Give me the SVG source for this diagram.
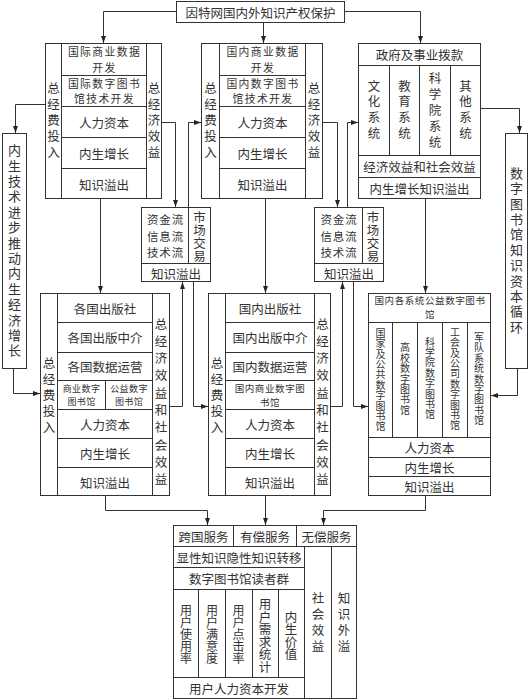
<svg xmlns="http://www.w3.org/2000/svg" width="530" height="700" viewBox="0 0 530 700">
<defs>
<style>
.b{fill:#fff;stroke:#333;stroke-width:1}
.l{fill:none;stroke:#333;stroke-width:1}
.c{fill:none;stroke:#333;stroke-width:1;marker-end:url(#a)}
text{font-family:"Noto Sans CJK SC","Noto Sans CJK TC",sans-serif;font-size:12.5px;fill:#333;text-anchor:middle;dominant-baseline:central}
.m{font-size:10.8px;letter-spacing:1.4px}
.f{font-size:11.5px;letter-spacing:0.8px}
.s{font-size:9.5px;letter-spacing:0.6px}
.xs{font-size:9px;letter-spacing:0.4px}
.v{writing-mode:vertical-rl;text-orientation:upright}
.v16{letter-spacing:3.5px}
.v17{letter-spacing:4.8px}
.v15{font-size:13px;letter-spacing:2.4px}
.vs{font-size:10px;letter-spacing:0.4px}
.vb{font-size:12px;letter-spacing:0}
</style>
<marker id="a" viewBox="0 0 10 10" refX="10" refY="5" markerWidth="7" markerHeight="7" orient="auto" markerUnits="userSpaceOnUse"><path d="M0,1.5 L10,5 L0,8.5z" fill="#222"/></marker>
</defs>
<rect width="530" height="700" fill="#fff"/>

<g id="connectors">
<path class="c" d="M176.5,11.5 H103.5 V43"/>
<path class="c" d="M263.5,22 V43"/>
<path class="c" d="M345,11.5 H420.5 V43"/>
<path class="c" d="M45,104.5 H15.5 V133"/>
<path class="c" d="M13.5,369 V393.5 H40"/>
<path class="c" d="M162,122.5 H175.5 V207"/>
<path class="c" d="M188.5,207 V122.5 H201"/>
<path class="c" d="M170,406.5 H182.5 V282"/>
<path class="c" d="M193.5,282 V406.5 H208"/>
<path class="c" d="M323,122.5 H337.5 V207"/>
<path class="c" d="M347.5,207 V122.5 H358"/>
<path class="c" d="M331,406.5 H342.5 V282"/>
<path class="c" d="M353.5,282 V406.5 H368"/>
<path class="c" d="M481,108.5 H519.5 V133"/>
<path class="c" d="M517.5,369 V395.5 H491"/>
<path class="c" d="M100.5,199 V293"/>
<path class="c" d="M265.5,199 V293"/>
<path class="c" d="M425.5,199 V293"/>
<path class="c" d="M105.5,496 V510.5 H207.5 V525"/>
<path class="c" d="M265.5,496 V525"/>
<path class="c" d="M425.5,496 V510.5 H323.5 V525"/>
</g>

<g id="top">
<rect class="b" x="176.5" y="1.5" width="168" height="21"/>
<text x="260.5" y="12">因特网国内外知识产权保护</text>
</g>

<g id="box1">
<rect class="b" x="45.5" y="43.5" width="116" height="155"/>
<path class="l" d="M61.5,43.5 V198.5 M146.5,43.5 V198.5 M61.5,75.5 H146.5 M61.5,106.5 H146.5 M61.5,137.5 H146.5 M61.5,168.5 H146.5"/>
<text class="m" x="104.5" y="51">国际商业数据</text><text class="m" x="104.5" y="66.8">开发</text>
<text class="m" x="104.5" y="82.6">国际数字图书</text><text class="m" x="104.5" y="98.4">馆技术开发</text>
<text x="104" y="122" font-size="13.5">人力资本</text>
<text x="104" y="153" font-size="13.5">内生增长</text>
<text x="104" y="184" font-size="13.5">知识溢出</text>
<text class="v v16" x="53.5" y="121.5">总经费投入</text>
<text class="v v16" x="154" y="121.5">总经济效益</text>
</g>

<g id="box2">
<rect class="b" x="201.5" y="43.5" width="121" height="155"/>
<path class="l" d="M219.5,43.5 V198.5 M305.5,43.5 V198.5 M219.5,75.5 H305.5 M219.5,106.5 H305.5 M219.5,137.5 H305.5 M219.5,168.5 H305.5"/>
<text class="m" x="263" y="51">国内商业数据</text><text class="m" x="263" y="66.8">开发</text>
<text class="m" x="263" y="82.6">国内数字图书</text><text class="m" x="263" y="98.4">馆技术开发</text>
<text x="262.5" y="122" font-size="13.5">人力资本</text>
<text x="262.5" y="153" font-size="13.5">内生增长</text>
<text x="262.5" y="184" font-size="13.5">知识溢出</text>
<text class="v v16" x="210.5" y="121.5">总经费投入</text>
<text class="v v16" x="314" y="121.5">总经济效益</text>
</g>

<g id="box3">
<rect class="b" x="358.5" y="43.5" width="122" height="155"/>
<path class="l" d="M358.5,65.5 H480.5 M358.5,155.5 H480.5 M358.5,177.5 H480.5 M389.5,65.5 V155.5 M419.5,65.5 V155.5 M450.5,65.5 V155.5"/>
<text x="419.5" y="54.5">政府及事业拨款</text>
<text class="v" x="374" y="111" letter-spacing="3.2">文化系统</text>
<text class="v" x="404.5" y="111" letter-spacing="3.2">教育系统</text>
<text class="v" x="435" y="112" letter-spacing="3.7">科学院系统</text>
<text class="v" x="465.5" y="111" letter-spacing="3.2">其他系统</text>
<text x="419.5" y="166.5">经济效益和社会效益</text>
<text x="419.5" y="188">内生增长知识溢出</text>
</g>

<g id="left-side">
<rect class="b" x="2.5" y="133.5" width="24" height="235"/>
<text class="v v15" x="14.5" y="251.5">内生技术进步推动内生经济增长</text>
</g>

<g id="right-side">
<rect class="b" x="505.5" y="133.5" width="22" height="235"/>
<text class="v v15" x="516.5" y="251">数字图书馆知识资本循环</text>
</g>

<g id="flowA">
<rect class="b" x="141.5" y="207.5" width="69" height="74"/>
<path class="l" d="M141.5,263.5 H210.5 M188.5,207.5 V263.5"/>
<text class="f" x="165.5" y="218.8">资金流</text><text class="f" x="165.5" y="235.5">信息流</text><text class="f" x="165.5" y="252.2">技术流</text>
<text class="v" x="199.5" y="237" font-size="12" letter-spacing="0.5">市场交易</text>
<text x="176" y="273">知识溢出</text>
</g>

<g id="flowB">
<rect class="b" x="314.5" y="207.5" width="69" height="74"/>
<path class="l" d="M314.5,263.5 H383.5 M362.5,207.5 V263.5"/>
<text class="f" x="339" y="218.8">资金流</text><text class="f" x="339" y="235.5">信息流</text><text class="f" x="339" y="252.2">技术流</text>
<text class="v" x="373" y="237" font-size="12" letter-spacing="0.5">市场交易</text>
<text x="349" y="273">知识溢出</text>
</g>

<g id="box4">
<rect class="b" x="40.5" y="293.5" width="129" height="202"/>
<path class="l" d="M57.5,293.5 V495.5 M152.5,293.5 V495.5 M57.5,322.5 H152.5 M57.5,352.5 H152.5 M57.5,380.5 H152.5 M57.5,409.5 H152.5 M57.5,438.5 H152.5 M57.5,467.5 H152.5 M105.5,380.5 V409.5"/>
<text x="105" y="308" font-size="13">各国出版社</text>
<text x="105" y="337.5" font-size="13">各国出版中介</text>
<text x="105" y="366.5" font-size="13">各国数据运营</text>
<text class="xs" x="81.5" y="388.4">商业数字</text><text class="xs" x="81.5" y="401.6">图书馆</text>
<text class="xs" x="129" y="388.4">公益数字</text><text class="xs" x="129" y="401.6">图书馆</text>
<text x="105" y="424" font-size="13.5">人力资本</text>
<text x="105" y="453" font-size="13.5">内生增长</text>
<text x="105" y="482" font-size="13.5">知识溢出</text>
<text class="v v16" x="49" y="396.5">总经费投入</text>
<text class="v v17" x="161" y="404">总经济效益和社会效益</text>
</g>

<g id="box5">
<rect class="b" x="208.5" y="293.5" width="122" height="202"/>
<path class="l" d="M225.5,293.5 V495.5 M314.5,293.5 V495.5 M225.5,322.5 H314.5 M225.5,352.5 H314.5 M225.5,380.5 H314.5 M225.5,409.5 H314.5 M225.5,438.5 H314.5 M225.5,467.5 H314.5"/>
<text x="270" y="308" font-size="13">国内出版社</text>
<text x="270" y="337.5" font-size="13">国内出版中介</text>
<text x="270" y="366.5" font-size="13">国内数据运营</text>
<text class="s" x="270" y="387.8">国内商业数字图</text><text class="s" x="270" y="401.8">书馆</text>
<text x="270" y="424" font-size="13.5">人力资本</text>
<text x="270" y="453" font-size="13.5">内生增长</text>
<text x="270" y="482" font-size="13.5">知识溢出</text>
<text class="v v16" x="217" y="396.5">总经费投入</text>
<text class="v v17" x="322.5" y="404">总经济效益和社会效益</text>
</g>

<g id="box6">
<rect class="b" x="368.5" y="293.5" width="122" height="202"/>
<path class="l" d="M368.5,322.5 H490.5 M368.5,437.5 H490.5 M368.5,457.5 H490.5 M368.5,476.5 H490.5 M392.5,322.5 V437.5 M417.5,322.5 V437.5 M442.5,322.5 V437.5 M467.5,322.5 V437.5"/>
<text class="s" x="430" y="300.3">国内各系统公益数字图书</text><text class="s" x="430" y="314.3">馆</text>
<text class="v vs" x="380.5" y="380">国家及公共数字图书馆</text>
<text class="v vs" x="405" y="379">高校数字图书馆</text>
<text class="v vs" x="430" y="378.5">科学院数字图书馆</text>
<text class="v vs" x="455" y="379">工会及公司数字图书馆</text>
<text class="v vs" x="479" y="379">军队系统数字图书馆</text>
<text x="429.5" y="447.5" font-size="13">人力资本</text>
<text x="429.5" y="467" font-size="13">内生增长</text>
<text x="429.5" y="486.5" font-size="13">知识溢出</text>
</g>

<g id="bottom">
<rect class="b" x="173.5" y="525.5" width="183" height="173"/>
<path class="l" d="M173.5,546.5 H356.5 M233.5,525.5 V546.5 M296.5,525.5 V546.5 M304.5,546.5 V698.5 M331.5,546.5 V698.5 M173.5,567.5 H304.5 M173.5,589.5 H304.5 M173.5,677.5 H304.5 M198.5,589.5 V677.5 M225.5,589.5 V677.5 M252.5,589.5 V677.5 M278.5,589.5 V677.5"/>
<text x="203.5" y="536">跨国服务</text>
<text x="265" y="536">有偿服务</text>
<text x="326.5" y="536">无偿服务</text>
<text x="239" y="557">显性知识隐性知识转移</text>
<text x="239" y="578.5">数字图书馆读者群</text>
<text class="v vb" x="186" y="634">用户使用率</text>
<text class="v vb" x="212" y="634">用户满意度</text>
<text class="v vb" x="238.5" y="634">用户点击率</text>
<text class="v" x="265" y="635.5" font-size="11.8">用户需求统计</text>
<text class="v" x="291" y="635.5" font-size="11.7">内生价值</text>
<text x="239" y="688.5">用户人力资本开发</text>
<text class="v" x="318" y="624" font-size="13" letter-spacing="3.3">社会效益</text>
<text class="v" x="344" y="624" font-size="13" letter-spacing="3.3">知识外溢</text>
</g>
</svg>
